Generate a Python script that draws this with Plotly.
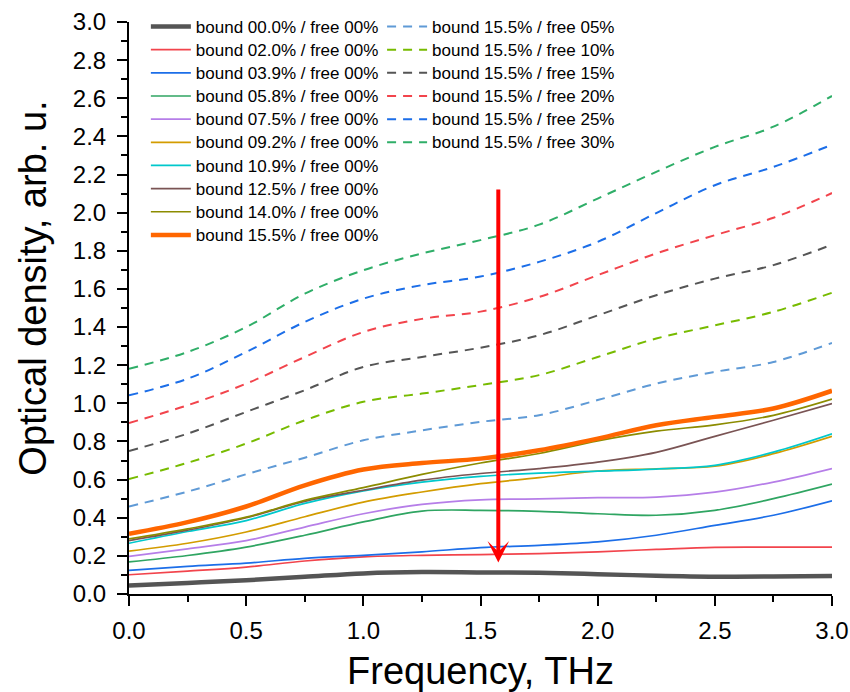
import plotly.graph_objects as go

# Frequency grid, THz
freq = [0.0, 0.25, 0.5, 0.75, 1.0, 1.25, 1.5, 1.75, 2.0, 2.25, 2.5, 2.75, 3.0]

# Optical density spectra, bound water series (free water 0%)
od_b000 = [0.045, 0.058, 0.072, 0.090, 0.108, 0.115, 0.113, 0.111, 0.104, 0.096, 0.091, 0.092, 0.095]
od_b020 = [0.101, 0.120, 0.141, 0.173, 0.195, 0.203, 0.207, 0.212, 0.221, 0.234, 0.245, 0.246, 0.246]
od_b039 = [0.124, 0.145, 0.162, 0.187, 0.203, 0.221, 0.243, 0.255, 0.273, 0.308, 0.360, 0.413, 0.489]
od_b058 = [0.168, 0.202, 0.246, 0.308, 0.378, 0.435, 0.439, 0.433, 0.421, 0.413, 0.439, 0.500, 0.576]
od_b075 = [0.197, 0.237, 0.280, 0.351, 0.421, 0.470, 0.494, 0.499, 0.505, 0.508, 0.534, 0.587, 0.658]
od_b092 = [0.225, 0.266, 0.325, 0.405, 0.482, 0.535, 0.579, 0.610, 0.645, 0.657, 0.670, 0.736, 0.827]
od_b109 = [0.266, 0.328, 0.385, 0.475, 0.541, 0.587, 0.617, 0.634, 0.644, 0.655, 0.675, 0.744, 0.840]
od_b125 = [0.280, 0.335, 0.400, 0.486, 0.544, 0.597, 0.632, 0.658, 0.692, 0.743, 0.827, 0.911, 0.999]
od_b140 = [0.289, 0.342, 0.403, 0.491, 0.558, 0.627, 0.687, 0.737, 0.803, 0.854, 0.887, 0.937, 1.022]
od_b155 = [0.316, 0.377, 0.459, 0.570, 0.653, 0.687, 0.710, 0.754, 0.815, 0.885, 0.929, 0.973, 1.066]

# Bound water 15.5% with increasing free water content
od_f05 = [0.459, 0.537, 0.628, 0.715, 0.806, 0.858, 0.903, 0.938, 1.017, 1.103, 1.165, 1.217, 1.317]
od_f10 = [0.603, 0.688, 0.789, 0.911, 1.008, 1.051, 1.096, 1.148, 1.243, 1.340, 1.409, 1.480, 1.580]
od_f15 = [0.750, 0.841, 0.955, 1.069, 1.191, 1.243, 1.292, 1.357, 1.461, 1.567, 1.654, 1.725, 1.832]
od_f20 = [0.897, 0.990, 1.103, 1.243, 1.374, 1.443, 1.481, 1.558, 1.672, 1.786, 1.882, 1.973, 2.103]
od_f25 = [1.042, 1.129, 1.269, 1.427, 1.549, 1.620, 1.665, 1.742, 1.847, 1.998, 2.144, 2.240, 2.356]
od_f30 = [1.181, 1.269, 1.400, 1.575, 1.698, 1.786, 1.856, 1.937, 2.074, 2.214, 2.345, 2.451, 2.612]

bound_labels = ["bound 00.0% / free 00%", "bound 02.0% / free 00%", "bound 03.9% / free 00%",
                "bound 05.8% / free 00%", "bound 07.5% / free 00%", "bound 09.2% / free 00%",
                "bound 10.9% / free 00%", "bound 12.5% / free 00%", "bound 14.0% / free 00%",
                "bound 15.5% / free 00%"]
free_labels = ["bound 15.5% / free 05%", "bound 15.5% / free 10%", "bound 15.5% / free 15%",
               "bound 15.5% / free 20%", "bound 15.5% / free 25%", "bound 15.5% / free 30%"]

bound_series = [od_b000, od_b020, od_b039, od_b058, od_b075, od_b092, od_b109, od_b125, od_b140, od_b155]
free_series = [od_f05, od_f10, od_f15, od_f20, od_f25, od_f30]

bound_colors = ["#555555", "#f2444c", "#1c6ee8", "#2fa562", "#b67ee8",
                "#d39c00", "#00c8cc", "#7a5454", "#8c8c00", "#ff6600"]
bound_widths = [4.5, 1.7, 1.7, 1.7, 1.7, 1.7, 1.7, 1.7, 1.7, 4.5]
free_colors = ["#5f9ad6", "#77bb00", "#555555", "#f2444c", "#1c6ee8", "#2fae68"]

# Arrow marking the trend with increasing bound water
arrow_x = 1.576
arrow_top = 2.13
arrow_tip = 0.165

FONT = "Liberation Sans, Arial, sans-serif"


def legend_name(label):
    # legend rows are spaced for a smaller font, the entry text itself is drawn larger
    return '<span style="font-size:17px">' + label + "</span>"


fig = go.Figure()

for ys, name, col, w in zip(bound_series, bound_labels, bound_colors, bound_widths):
    fig.add_trace(go.Scatter(
        x=freq, y=ys, name=legend_name(name), mode="lines",
        line=dict(color=col, width=w, shape="spline", smoothing=1.0),
        legend="legend",
    ))

for ys, name, col in zip(free_series, free_labels, free_colors):
    fig.add_trace(go.Scatter(
        x=freq, y=ys, name=legend_name(name), mode="lines",
        line=dict(color=col, width=2, dash="9px,7px", shape="spline", smoothing=1.0),
        legend="legend2",
    ))

fig.add_annotation(
    x=arrow_x, y=arrow_tip, ax=arrow_x, ay=arrow_top,
    xref="x", yref="y", axref="x", ayref="y",
    text="", showarrow=True, arrowhead=3, arrowsize=0.9, arrowwidth=4,
    arrowcolor="#ff0000", standoff=0, startstandoff=0,
)

# Y-axis title
fig.add_annotation(
    text="Optical density, arb. u.", textangle=-90,
    xref="paper", yref="paper", x=-0.137, y=0.535,
    xanchor="center", yanchor="middle", showarrow=False,
    font=dict(family=FONT, size=38, color="black"),
)

axis_common = dict(
    showgrid=False, zeroline=False, showline=True, linecolor="black", linewidth=2,
    ticks="outside", ticklen=10, tickwidth=2, tickcolor="black",
    tickfont=dict(family=FONT, size=24, color="black"),
    mirror=False, automargin=False,
)

fig.update_xaxes(
    range=[0, 3], tick0=0, dtick=0.5, tickformat=".1f", ticklabelstandoff=4,
    minor=dict(ticks="outside", ticklen=6, tickwidth=2, tickcolor="black", dtick=0.25),
    title=dict(text="Frequency, THz", font=dict(family=FONT, size=38, color="black"), standoff=20),
    **axis_common,
)
fig.update_yaxes(
    range=[0, 3], tick0=0, dtick=0.2, tickformat=".1f", ticklabelstandoff=6,
    minor=dict(ticks="outside", ticklen=6, tickwidth=2, tickcolor="black", dtick=0.1),
    **axis_common,
)

legend_common = dict(
    bgcolor="rgba(0,0,0,0)", borderwidth=0, tracegroupgap=0, itemwidth=40,
    font=dict(family=FONT, size=15.5, color="black"),
    xanchor="left", yanchor="top",
)

fig.update_layout(
    width=850, height=692,
    margin=dict(l=129, r=18, t=22, b=98, autoexpand=False),
    paper_bgcolor="white", plot_bgcolor="white",
    showlegend=True,
    legend=dict(x=0.024, y=1.021, **legend_common),
    legend2=dict(x=0.36, y=1.021, **legend_common),
)

fig.write_html("out.html")
